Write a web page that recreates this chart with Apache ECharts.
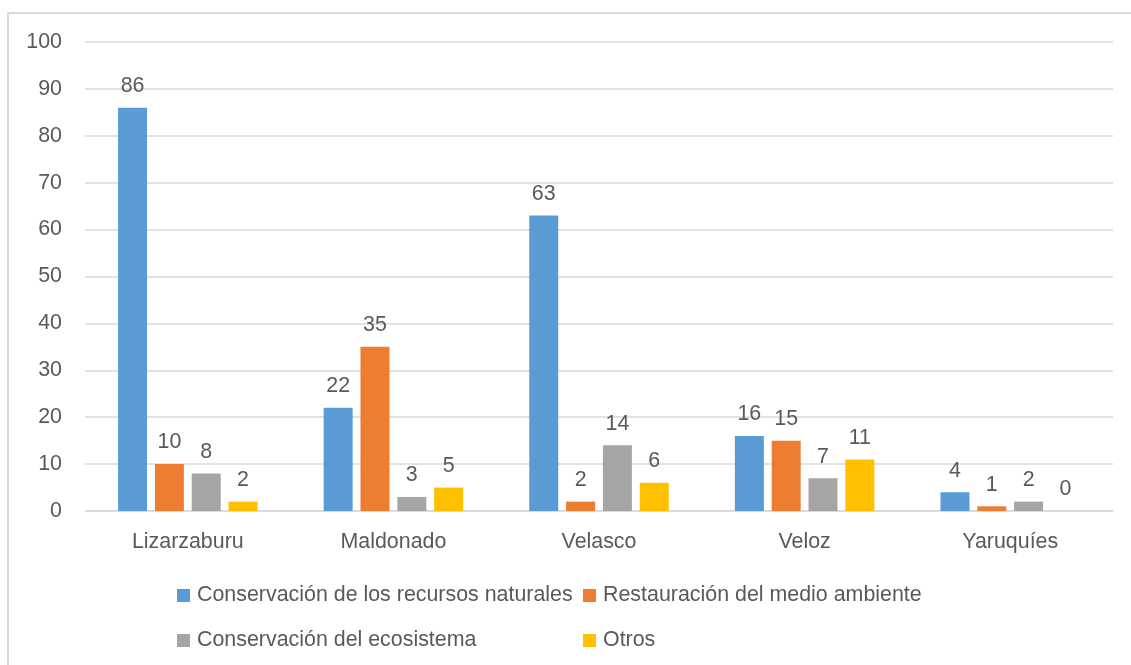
<!DOCTYPE html>
<html>
<head>
<meta charset="utf-8">
<script src="https://cdn.jsdelivr.net/npm/echarts@6/dist/echarts.min.js"></script>
<style>
  html, body { margin: 0; padding: 0; background: #fff; }
  #chart { width: 1131px; height: 665px; }
</style>
</head>
<body>
<div id="chart"></div>
<script>
// datos por parroquia
const parroquias = [ 'Lizarzaburu', 'Maldonado', 'Velasco', 'Veloz', 'Yaruquíes' ];
const conservacionRecursos = [ 86, 22, 63, 16, 4 ];
const restauracion = [ 10, 35, 2, 15, 1 ];
const conservacionEcosistema = [ 8, 3, 14, 7, 2 ];
const otros = [ 2, 5, 6, 11, 0 ];
const yTicks = [ 0, 10, 20, 30, 40, 50, 60, 70, 80, 90, 100 ];

const FONT = 'Liberation Sans';
const FS = 21.4;
const TXT = '#595959';
const nombres = [ 'Conservación de los recursos naturales', 'Restauración del medio ambiente', 'Conservación del ecosistema', 'Otros' ];
const colores = [ '#5B9BD5', '#ED7D31', '#A5A5A5', '#FFC000' ];

const serie = ( name, data, color ) => ( {
    name, type: 'bar', data,
    barWidth: 29, barGap: '27%',
    itemStyle: { color },
    label: { show: true, position: 'top', distance: 11, color: TXT, fontSize: FS, fontFamily: FONT },
    emphasis: { disabled: true }
} );

const leyenda = ( name, left, top ) => ( {
    data: [ name ], left, top, padding: 0, itemWidth: 13, itemHeight: 13, itemGap: 0,
    icon: 'rect', selectedMode: false,
    textStyle: { color: TXT, fontSize: FS, fontFamily: FONT, padding: [ 0, 0, 0, 2 ] }
} );

const chart = echarts.init( document.getElementById( 'chart' ) );
chart.setOption( {
    animation: false,
    backgroundColor: '#fff',
    color: colores,
    grid: { left: 85, right: 18, top: 42, bottom: 154, containLabel: false },
    xAxis: {
        type: 'category', data: parroquias,
        axisLine: { lineStyle: { color: '#d9d9d9', width: 1.5 } },
        axisTick: { show: false },
        axisLabel: { color: TXT, fontSize: FS, fontFamily: FONT, margin: 21 }
    },
    yAxis: {
        type: 'value', min: yTicks[0], max: yTicks[yTicks.length - 1], interval: 10,
        axisLine: { show: false }, axisTick: { show: false },
        splitLine: { lineStyle: { color: '#d9d9d9', width: 1.5 } },
        axisLabel: { color: TXT, fontSize: FS, fontFamily: FONT, margin: 23 }
    },
    legend: [
        leyenda( nombres[0], 177, 585 ),
        leyenda( nombres[1], 583, 585 ),
        leyenda( nombres[2], 177, 630 ),
        leyenda( nombres[3], 583, 630 )
    ],
    graphic: [
        { type: 'line', shape: { x1: 8, y1: 13, x2: 1131, y2: 13 }, style: { stroke: '#d9d9d9', lineWidth: 2 }, silent: true },
        { type: 'line', shape: { x1: 8, y1: 12, x2: 8, y2: 665 }, style: { stroke: '#d9d9d9', lineWidth: 2 }, silent: true }
    ],
    series: [
        serie( nombres[0], conservacionRecursos, colores[0] ),
        serie( nombres[1], restauracion, colores[1] ),
        serie( nombres[2], conservacionEcosistema, colores[2] ),
        serie( nombres[3], otros, colores[3] )
    ]
} );
</script>
</body>
</html>
